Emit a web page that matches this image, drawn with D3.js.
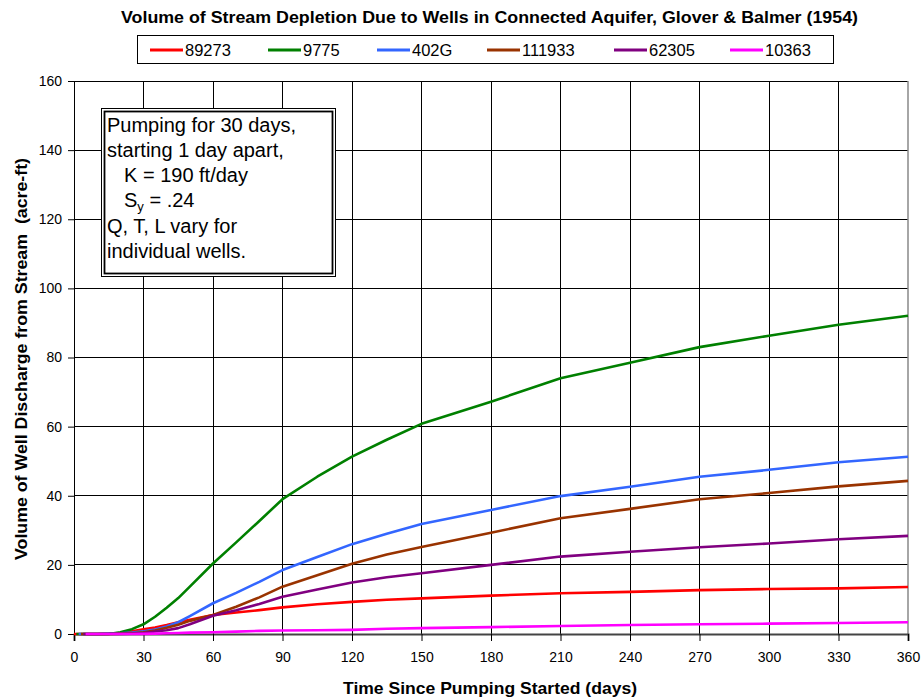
<!DOCTYPE html>
<html><head><meta charset="utf-8">
<script src="https://cdn.jsdelivr.net/npm/d3@7/dist/d3.min.js"></script>
<style>body{margin:0;background:#fff}svg{display:block}text{font-family:"Liberation Sans",Arial,sans-serif}</style>
</head><body><svg id="c" width="921" height="700"></svg>
<script>
const days = [0,5,10,15,20,25,30,35,40,45,50,60,70,80,90,105,120,135,150,180,210,240,270,300,330,360];
const seriesNames = ["89273","9775","402G","111933","62305","10363"];
const startDays = [0,1,2,3,4,5];
const v89273  = [0,0,0,0.1,0.3,0.8,1.4,1.9,2.6,3.4,4.1,5.5,6.2,6.9,7.7,8.6,9.3,9.9,10.3,11.1,11.8,12.2,12.7,13.0,13.2,13.6];
const v9775   = [0,0,0,0,0.5,1.4,2.8,5.0,7.6,10.4,13.7,20.4,26.5,32.7,39,45.5,51.3,56.2,60.8,67.2,74,78.5,83,86.3,89.5,92.1];
const v402G   = [0,0,0,0.1,0.2,0.4,0.8,1.3,2.2,3.4,5.2,8.9,11.9,15.1,18.5,22.3,26.0,29.0,31.8,35.9,39.9,42.6,45.5,47.5,49.7,51.3];
const v111933 = [0,0,0,0,0.1,0.2,0.5,1.0,1.8,2.7,3.8,5.5,7.9,10.6,13.7,17.0,20.3,23.0,25.2,29.3,33.5,36.2,39,40.8,42.7,44.3];
const v62305  = [0,0,0,0,0,0.1,0.3,0.7,1.1,1.7,2.8,5.3,6.9,8.7,10.8,12.9,14.9,16.4,17.6,20.0,22.4,23.8,25.1,26.2,27.4,28.4];
const v10363  = [0,0,0,0,0,0,0.05,0.1,0.2,0.3,0.4,0.5,0.7,0.9,1.0,1.1,1.2,1.5,1.7,2.0,2.3,2.6,2.8,3.0,3.2,3.4];
const seriesValues = [v89273,v9775,v402G,v111933,v62305,v10363];
const colors = ["#FF0000","#008000","#3366FF","#993300","#800080","#FF00FF"];
const xTicks = [0,30,60,90,120,150,180,210,240,270,300,330,360];
const yTicks = [0,20,40,60,80,100,120,140,160];

const svg = d3.select("#c");
const L=74,R=908,T=81,B=634;
const x = d3.scaleLinear().domain([0,360]).range([L,R]);
const y = d3.scaleLinear().domain([0,160]).range([B,T]);

// gridlines
svg.append("g").selectAll("line").data(yTicks.slice(1)).join("line")
  .attr("x1",L).attr("x2",R).attr("y1",d=>y(d)).attr("y2",d=>y(d))
  .attr("stroke","#000").attr("stroke-width",1).attr("shape-rendering","crispEdges");
svg.append("g").selectAll("line").data(xTicks.slice(1,-1)).join("line")
  .attr("x1",d=>x(d)).attr("x2",d=>x(d)).attr("y1",T).attr("y2",B)
  .attr("stroke","#000").attr("stroke-width",1).attr("shape-rendering","crispEdges");
svg.append("line").attr("x1",R).attr("x2",R).attr("y1",T).attr("y2",B)
  .attr("stroke","#888").attr("stroke-width",1.5);

// axes
const yAxis = svg.append("g").attr("transform",`translate(${L},0)`)
  .call(d3.axisLeft(y).tickValues(yTicks).tickSize(6).tickPadding(6));
const xAxis = svg.append("g").attr("transform",`translate(0,${B})`)
  .call(d3.axisBottom(x).tickValues(xTicks).tickSize(7).tickPadding(11));
[yAxis,xAxis].forEach(a=>{
  a.select(".domain").attr("stroke","#000");
  a.selectAll(".tick line").attr("stroke","#000");
  a.selectAll("text").attr("font-size",14).attr("fill","#000")
   .style("font-family","Liberation Sans,Arial,sans-serif");
});
xAxis.select(".domain").attr("stroke","#444").attr("stroke-width",2);

// lines
const line = d3.line().x(d=>x(d[0])).y(d=>y(d[1]));
seriesValues.forEach((vals,i)=>{
  const pts = [[startDays[i],0]];
  days.forEach((dd,j)=>{ if(dd>startDays[i]) pts.push([dd,vals[j]]); });
  svg.append("path").datum(pts).attr("d",line).attr("fill","none")
    .attr("stroke",colors[i]).attr("stroke-width",2.6).attr("stroke-linejoin","round");
});

// title
svg.append("text").attr("x",489.5).attr("y",23).attr("text-anchor","middle")
  .attr("font-size",17).attr("font-weight","bold")
  .attr("textLength",737).attr("lengthAdjust","spacingAndGlyphs")
  .text("Volume of Stream Depletion Due to Wells in Connected Aquifer, Glover & Balmer (1954)");

// legend
svg.append("rect").attr("x",137.5).attr("y",35.5).attr("width",696).attr("height",28)
  .attr("fill","#fff").attr("stroke","#000");
const legX = [150,268,377,487,614,730];
seriesNames.forEach((n,i)=>{
  svg.append("line").attr("x1",legX[i]).attr("x2",legX[i]+33).attr("y1",50).attr("y2",50)
    .attr("stroke",colors[i]).attr("stroke-width",3);
  svg.append("text").attr("x",legX[i]+35).attr("y",56).attr("font-size",16.5).text(n);
});

// text box
svg.append("rect").attr("x",101.5).attr("y",108.5).attr("width",234).attr("height",168)
  .attr("fill","#fff").attr("stroke","#000").attr("stroke-width",1);
svg.append("rect").attr("x",104.5).attr("y",111.5).attr("width",228).attr("height",162)
  .attr("fill","none").attr("stroke","#000").attr("stroke-width",1.8);
const tb = svg.append("g").attr("font-size",20);
tb.append("text").attr("x",107).attr("y",132).text("Pumping for 30 days,");
tb.append("text").attr("x",107).attr("y",157).text("starting 1 day apart,");
tb.append("text").attr("x",124).attr("y",182).text("K = 190 ft/day");
const s = tb.append("text").attr("x",124).attr("y",207);
s.append("tspan").text("S");
s.append("tspan").attr("font-size",13).attr("dy",4).text("y");
s.append("tspan").attr("dy",-4).text(" = .24");
tb.append("text").attr("x",107).attr("y",233).text("Q, T, L vary for");
tb.append("text").attr("x",107).attr("y",258).text("individual wells.");

// axis titles
svg.append("text").attr("x",490).attr("y",694).attr("text-anchor","middle")
  .attr("font-size",17).attr("font-weight","bold")
  .attr("textLength",294).attr("lengthAdjust","spacingAndGlyphs")
  .text("Time Since Pumping Started (days)");
svg.append("text").attr("transform","translate(27,359) rotate(-90)").attr("text-anchor","middle")
  .attr("font-size",17).attr("font-weight","bold").attr("xml:space","preserve")
  .attr("textLength",402).attr("lengthAdjust","spacingAndGlyphs")
  .text("Volume of Well Discharge from Stream  (acre-ft)");
</script></body></html>
